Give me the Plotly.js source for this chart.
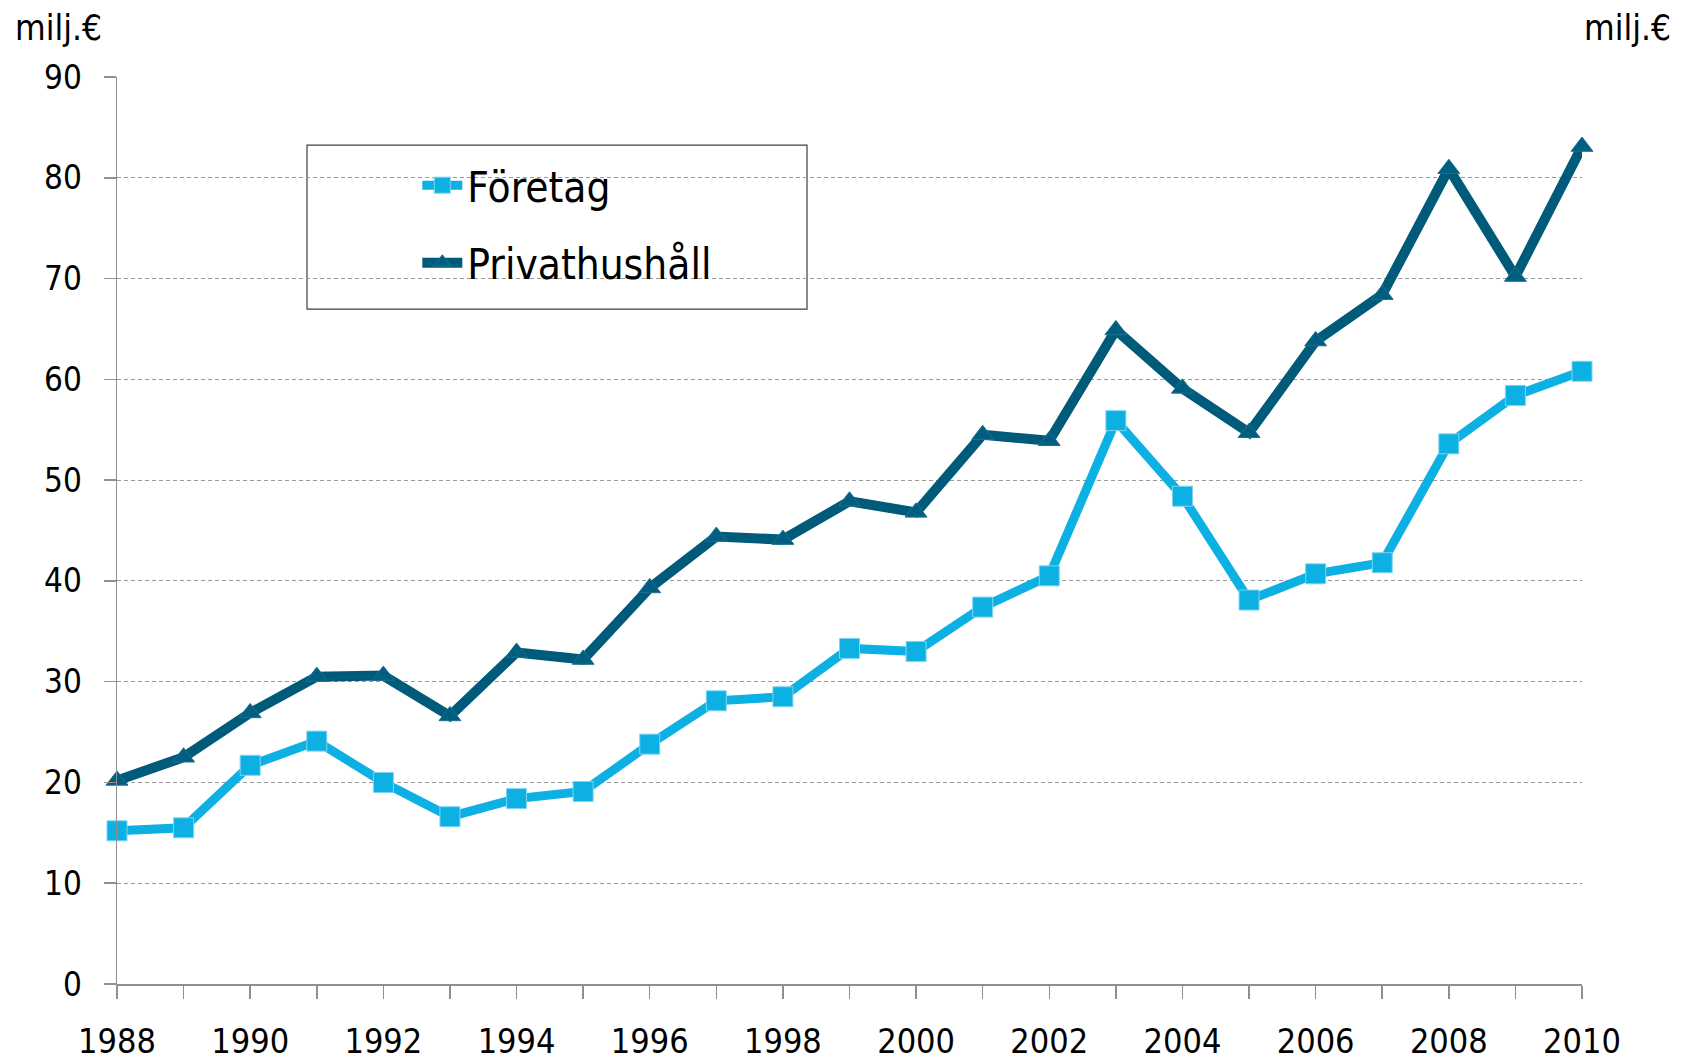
<!DOCTYPE html>
<html>
<head>
<meta charset="utf-8">
<script src="https://cdn.plot.ly/plotly-3.0.1.min.js"></script>
<style>html,body{margin:0;padding:0;background:#fff;}#chart{width:1682px;height:1063px;}</style>
</head>
<body>
<div id="chart"></div>
<script>
const years = [1988,1989,1990,1991,1992,1993,1994,1995,1996,1997,1998,1999,2000,2001,2002,2003,2004,2005,2006,2007,2008,2009,2010];
const foretag = [15.2,15.5,21.7,24.1,20.0,16.6,18.4,19.1,23.8,28.1,28.5,33.3,33.0,37.4,40.5,55.9,48.4,38.1,40.7,41.8,53.6,58.4,60.8];
const privathushall = [20.2,22.5,26.9,30.5,30.6,26.6,32.9,32.2,39.3,44.4,44.1,47.9,46.8,54.5,53.9,64.9,59.1,54.7,63.8,68.4,80.9,70.2,83.1];
const seriesNames = ["Företag", "Privathushåll"];
const unitLabel = "milj.€";
const yTicks = [0,10,20,30,40,50,60,70,80,90];

const FONT = "DejaVu Sans Condensed, DejaVu Sans, sans-serif";

const traces = [
  {
    x: years, y: foretag, name: seriesNames[0], type: "scatter", mode: "lines+markers",
    line: {color: "#0DB0E2", width: 9},
    marker: {symbol: "square", size: 20, color: "#0DB0E2", line: {color: "#7FD4F2", width: 1}},
    cliponaxis: false, legendgroup: "a"
  },
  {
    x: years, y: privathushall, name: seriesNames[1], type: "scatter", mode: "lines+markers",
    line: {color: "#005A79", width: 10},
    marker: {symbol: "triangle-up", size: 19, color: "#005F80", line: {color: "#1A7090", width: 1}},
    cliponaxis: false, legendgroup: "b"
  }
];

const axisCommon = {
  range: [0, 90], tickvals: yTicks, ticks: "outside", ticklen: 12, tickcolor: "#909090", tickwidth: 1.5,
  showline: true, linecolor: "#909090", linewidth: 1.5, zeroline: false,
  tickfont: {family: FONT, size: 33, color: "#000"}, fixedrange: true
};

const layout = {
  width: 1682, height: 1063,
  margin: {l: 117, r: 100, t: 77, b: 79, pad: 0},
  paper_bgcolor: "#fff", plot_bgcolor: "#fff",
  showlegend: true,
  legend: {
    x: 0.205, y: 0.918, xanchor: "left", yanchor: "top",
    bgcolor: "rgba(0,0,0,0)", borderwidth: 0,
    font: {family: FONT, size: 42, color: "#000"},
    traceorder: "grouped", tracegroupgap: 20, itemwidth: 40
  },
  xaxis: {
    range: [1988, 2010], tick0: 1988, dtick: 2, ticks: "outside", ticklen: 13, tickcolor: "#909090", tickwidth: 1.5,
    minor: {dtick: 1, ticks: "outside", ticklen: 13, tickcolor: "#909090", tickwidth: 1.5, showgrid: false},
    showline: true, linecolor: "#909090", linewidth: 1.5, showgrid: false, zeroline: false,
    tickfont: {family: FONT, size: 34, color: "#000"}, ticklabelstandoff: 14, fixedrange: true
  },
  yaxis: Object.assign({}, axisCommon, {
    side: "left", showgrid: true, gridcolor: "#9a9a9a", gridwidth: 1, griddash: "4px,3px",
    ticklabelstandoff: 15
  }),
  yaxis2: Object.assign({}, axisCommon, {
    side: "right", overlaying: "y", showgrid: false, ticklabelstandoff: 14
  }),
  shapes: [
    {type: "rect", xref: "paper", yref: "paper", x0: 0.1297, x1: 0.471, y0: 0.744, y1: 0.925,
     line: {color: "#404040", width: 1.2}, fillcolor: "rgba(0,0,0,0)", layer: "below"}
  ],
  annotations: [
    {text: unitLabel, xref: "paper", yref: "paper", x: -0.071, y: 1.054, xanchor: "left", yanchor: "middle",
     showarrow: false, font: {family: FONT, size: 35, color: "#000"}},
    {text: unitLabel, xref: "paper", yref: "paper", x: 1.062, y: 1.054, xanchor: "right", yanchor: "middle",
     showarrow: false, font: {family: FONT, size: 35, color: "#000"}}
  ]
};

Plotly.newPlot("chart", traces, layout, {displayModeBar: false, staticPlot: true});
</script>
</body>
</html>
